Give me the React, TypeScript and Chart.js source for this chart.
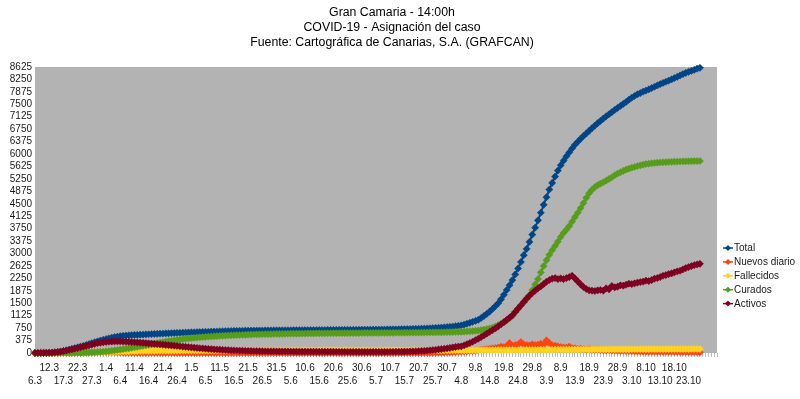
import React, { useEffect, useRef } from 'react';
import { Chart, registerables } from 'chart.js';

Chart.register(...registerables);

const titleLines = [
  'Gran Camaria - 14:00h',
  'COVID-19 - Asignación del caso',
  'Fuente: Cartográfica de Canarias, S.A. (GRAFCAN)',
];

const tickLabels = [
  '6.3', '12.3', '17.3', '22.3', '27.3', '1.4', '6.4', '11.4', '16.4', '21.4', '26.4',
  '1.5', '6.5', '11.5', '16.5', '21.5', '26.5', '31.5', '5.6', '10.6', '15.6', '20.6',
  '25.6', '30.6', '5.7', '10.7', '15.7', '20.7', '25.7', '30.7', '4.8', '9.8', '14.8',
  '19.8', '24.8', '29.8', '3.9', '8.9', '13.9', '18.9', '23.9', '28.9', '3.10', '8.10',
  '13.10', '18.10', '23.10',
];

const categoryCount = 241;

const yTicksMax = 8625;
const yTickStep = 375;

const seriesNames = ['Total', 'Nuevos diario', 'Fallecidos', 'Curados', 'Activos'];
const seriesColors = ['#004586', '#ff420e', '#ffd320', '#579d1c', '#7e0021'];

const total = [
  1, 2, 3, 4, 6, 9, 13, 20, 30, 45,
  62, 80, 101, 122, 145, 168, 190, 212, 240, 268,
  296, 324, 350, 375, 398, 420, 442, 462, 480, 496,
  508, 518, 526, 533, 539, 544, 549, 553, 557, 561,
  566, 570, 574, 579, 583, 587, 590, 594, 598, 602,
  606, 609, 612, 616, 619, 622, 625, 629, 632, 635,
  638, 641, 644, 646, 649, 652, 655, 658, 661, 664,
  666, 668, 669, 671, 672, 673, 674, 676, 677, 678,
  679, 680, 681, 681, 682, 683, 684, 684, 685, 686,
  686, 687, 688, 688, 689, 690, 690, 691, 692, 692,
  693, 693, 694, 695, 695, 696, 696, 697, 697, 698,
  699, 699, 700, 700, 701, 702, 702, 703, 704, 705,
  706, 707, 708, 709, 710, 711, 713, 714, 716, 718,
  720, 722, 724, 727, 729, 732, 735, 738, 742, 746,
  751, 756, 762, 768, 775, 782, 790, 799, 809, 820,
  835, 858, 884, 910, 940, 968, 1000, 1055, 1118, 1180,
  1250, 1330, 1412, 1500, 1620, 1755, 1900, 2045, 2200, 2370,
  2550, 2745, 2950, 3140, 3350, 3570, 3780, 4000, 4230, 4470,
  4700, 4930, 5130, 5320, 5500, 5660, 5800, 5930, 6050, 6170,
  6280, 6370, 6460, 6545, 6620, 6700, 6780, 6855, 6930, 7000,
  7070, 7140, 7200, 7265, 7330, 7390, 7450, 7510, 7570, 7640,
  7700, 7750, 7800, 7840, 7880, 7915, 7950, 7990, 8030, 8070,
  8110, 8145, 8180, 8215, 8250, 8290, 8330, 8370, 8410, 8445,
  8480, 8510, 8540, 8575, 8600,
];

const nuevosDiario = [
  1, 1, 1, 1, 2, 3, 4, 7, 10, 15,
  17, 18, 21, 21, 23, 23, 22, 22, 28, 28,
  28, 28, 26, 25, 23, 22, 22, 20, 18, 16,
  12, 10, 8, 7, 6, 5, 5, 4, 4, 4,
  5, 4, 4, 5, 4, 4, 3, 4, 4, 4,
  4, 3, 3, 4, 3, 3, 3, 4, 3, 3,
  3, 3, 3, 2, 3, 3, 3, 3, 3, 3,
  2, 2, 1, 2, 1, 1, 1, 2, 1, 1,
  1, 1, 0, 1, 1, 1, 1, 0, 1, 1,
  0, 1, 1, 0, 1, 1, 0, 1, 1, 0,
  1, 0, 1, 1, 0, 1, 0, 1, 0, 1,
  1, 0, 1, 0, 1, 1, 0, 1, 1, 1,
  1, 1, 1, 1, 1, 1, 2, 1, 2, 2,
  2, 2, 2, 3, 2, 3, 3, 3, 4, 4,
  6, 8, 10, 12, 14, 16, 20, 24, 28, 34,
  40, 45, 52, 60, 58, 70, 85, 100, 110, 120,
  130, 140, 150, 165, 190, 175, 210, 300, 220, 240,
  260, 330, 250, 240, 230, 260, 240, 250, 280, 260,
  380, 300, 230, 220, 200, 180, 170, 160, 190, 150,
  140, 120, 130, 110, 100, 120, 95, 90, 100, 85,
  80, 75, 85, 70, 72, 65, 60, 68, 62, 60,
  55, 50, 48, 45, 42, 44, 40, 38, 42, 40,
  38, 36, 40, 35, 38, 36, 34, 32, 30, 33,
  30, 28, 27, 25, 20,
];

const fallecidos = [
  0, 0, 0, 0, 0, 0, 0, 0, 0, 0,
  0, 0, 1, 1, 2, 3, 4, 6, 8, 10,
  13, 16, 19, 22, 25, 28, 32, 35, 38, 41,
  44, 47, 50, 52, 54, 56, 58, 60, 62, 63,
  64, 66, 67, 68, 69, 70, 71, 72, 72, 73,
  74, 74, 75, 75, 76, 76, 76, 77, 77, 77,
  78, 78, 78, 78, 78, 79, 79, 79, 79, 79,
  79, 79, 79, 79, 79, 80, 80, 80, 80, 80,
  80, 80, 80, 80, 80, 80, 80, 80, 80, 80,
  80, 80, 80, 80, 80, 80, 80, 80, 80, 80,
  80, 80, 80, 80, 80, 80, 80, 80, 80, 80,
  80, 80, 80, 80, 80, 81, 81, 81, 81, 81,
  81, 81, 81, 81, 81, 81, 81, 81, 81, 81,
  81, 81, 81, 81, 82, 82, 82, 82, 82, 82,
  82, 82, 82, 82, 82, 83, 83, 83, 83, 83,
  83, 83, 84, 84, 84, 84, 85, 85, 85, 86,
  86, 86, 87, 87, 88, 88, 89, 89, 90, 90,
  91, 91, 92, 92, 93, 94, 94, 95, 96, 96,
  97, 98, 98, 99, 100, 100, 101, 102, 102, 103,
  104, 104, 105, 105, 106, 106, 107, 107, 108, 108,
  109, 109, 110, 110, 110, 111, 111, 112, 112, 112,
  113, 113, 113, 114, 114, 114, 115, 115, 115, 116,
  116, 116, 117, 117, 117, 118, 118, 118, 119, 119,
  119, 120, 120, 120, 121,
];

const curados = [
  0, 0, 0, 0, 0, 0, 0, 0, 0, 0,
  0, 0, 0, 0, 1, 2, 3, 5, 7, 10,
  14, 19, 25, 32, 40, 49, 58, 68, 79, 90,
  102, 115, 128, 142, 156, 171, 186, 201, 216, 232,
  248, 264, 280, 296, 312, 328, 343, 357, 370, 383,
  395, 406, 417, 427, 437, 446, 455, 463, 471, 478,
  485, 492, 498, 504, 509, 514, 519, 524, 528, 532,
  536, 540, 543, 546, 549, 552, 555, 558, 560, 563,
  565, 567, 569, 571, 573, 575, 576, 578, 579, 581,
  582, 583, 584, 586, 587, 588, 589, 590, 591, 592,
  593, 594, 594, 595, 596, 597, 597, 598, 599, 599,
  600, 601, 601, 602, 602, 603, 604, 604, 605, 605,
  606, 606, 607, 607, 608, 609, 609, 610, 611, 611,
  612, 613, 614, 614, 615, 616, 617, 618, 619, 620,
  621, 622, 623, 625, 626, 628, 630, 632, 635, 637,
  640, 645, 650, 655, 660, 668, 676, 690, 705, 720,
  740, 765, 800, 840, 880, 925, 980, 1050, 1130, 1230,
  1330, 1430, 1530, 1630, 1740, 1900, 2070, 2230, 2430, 2620,
  2800, 2960, 3100, 3230, 3360, 3500, 3620, 3720, 3830, 3960,
  4100, 4230, 4370, 4520, 4680, 4820, 4920, 5000, 5060, 5110,
  5150, 5200, 5250, 5300, 5360, 5410, 5450, 5490, 5530, 5560,
  5590, 5610, 5640, 5660, 5680, 5700, 5710, 5720, 5730, 5740,
  5745, 5750, 5755, 5760, 5765, 5770, 5772, 5775, 5778, 5780,
  5782, 5785, 5787, 5789, 5790,
];

const activos = [
  1, 2, 3, 4, 6, 9, 13, 19, 28, 40,
  55, 72, 90, 110, 130, 150, 170, 188, 210, 232,
  255, 275, 295, 310, 322, 332, 340, 345, 348, 350,
  348, 345, 341, 336, 330, 324, 318, 312, 306, 299,
  292, 284, 276, 268, 260, 252, 244, 236, 228, 220,
  212, 203, 194, 185, 176, 168, 160, 152, 144, 137,
  130, 123, 117, 111, 105, 100, 95, 90, 86, 82,
  78, 75, 72, 69, 66, 64, 62, 60, 58, 56,
  54, 53, 52, 51, 50, 49, 48, 47, 46, 46,
  45, 45, 44, 44, 43, 43, 42, 42, 41, 41,
  40, 40, 40, 39, 39, 39, 38, 38, 38, 37,
  37, 37, 36, 36, 36, 36, 35, 35, 35, 35,
  35, 35, 36, 36, 37, 37, 38, 39, 40, 41,
  43, 45, 47, 50, 53, 57, 62, 67, 73, 80,
  88, 97, 107, 117, 128, 140, 153, 167, 182, 196,
  200, 230, 265, 300, 340, 385, 430, 480, 530, 585,
  640, 690, 740, 800, 865, 930, 1000, 1065, 1135, 1240,
  1340, 1440, 1540, 1640, 1730, 1810, 1880, 1950, 2010, 2080,
  2150, 2200, 2240, 2260, 2230, 2250, 2230, 2260, 2290, 2330,
  2250, 2160, 2070, 1990, 1930, 1890, 1880, 1870, 1890, 1900,
  1880, 1950, 1920, 2020, 1980, 2000, 2040, 2030, 2060, 2090,
  2080, 2100, 2120, 2140, 2150, 2180, 2170, 2200, 2240, 2260,
  2290, 2330, 2350, 2380, 2400, 2430, 2460, 2480, 2520, 2560,
  2590, 2620, 2650, 2670, 2690,
];

const seriesData = [total, nuevosDiario, fallecidos, curados, activos];

const FONT = '"Liberation Sans", Arial, Helvetica, sans-serif';

const categories = Array.from({ length: categoryCount }, (_, i) =>
  i % 5 === 0 && tickLabels[i / 5] !== undefined ? tickLabels[i / 5] : ''
);

function drawDiamond(ctx: CanvasRenderingContext2D, x: number, y: number, r: number) {
  ctx.beginPath();
  ctx.moveTo(x, y - r);
  ctx.lineTo(x + r, y);
  ctx.lineTo(x, y + r);
  ctx.lineTo(x - r, y);
  ctx.closePath();
  ctx.fill();
}

const plotBgPlugin = {
  id: 'plotBg',
  beforeDraw(chart: any) {
    const { ctx, chartArea: a } = chart;
    ctx.save();
    ctx.fillStyle = '#b3b3b3';
    ctx.fillRect(a.left, a.top, a.right - a.left, a.bottom - a.top);
    ctx.restore();
  },
};

const titlePlugin = {
  id: 'centerTitle',
  afterDraw(chart: any) {
    const { ctx } = chart;
    ctx.save();
    ctx.font = `12.3px ${FONT}`;
    ctx.fillStyle = '#000';
    ctx.textAlign = 'center';
    ctx.textBaseline = 'middle';
    titleLines.forEach((line, i) => {
      ctx.fillText(line, 392, 12.5 + i * 15);
    });
    ctx.restore();
  },
};

const sideLegendPlugin = {
  id: 'sideLegend',
  afterDraw(chart: any) {
    const { ctx, chartArea: a } = chart;
    const x0 = a.right + 6;
    const yStart = 248;
    const step = 13.9;
    ctx.save();
    ctx.font = `10px ${FONT}`;
    ctx.textBaseline = 'middle';
    ctx.textAlign = 'left';
    seriesNames.forEach((name, i) => {
      const y = yStart + i * step;
      const c = seriesColors[i];
      ctx.strokeStyle = c;
      ctx.fillStyle = c;
      ctx.lineWidth = 1.5;
      ctx.beginPath();
      ctx.moveTo(x0, y);
      ctx.lineTo(x0 + 10, y);
      ctx.stroke();
      drawDiamond(ctx, x0 + 5, y, 3);
      ctx.fillStyle = '#1a1a1a';
      ctx.fillText(name, x0 + 11, y + 0.5);
    });
    ctx.restore();
  },
};

export default function App() {
  const canvasRef = useRef<HTMLCanvasElement | null>(null);

  useEffect(() => {
    const canvas = canvasRef.current;
    if (!canvas) return;
    const datasets = seriesNames.map((name, i) => ({
      label: name,
      data: seriesData[i],
      borderColor: seriesColors[i],
      backgroundColor: seriesColors[i],
      borderWidth: 2,
      pointStyle: 'rectRot' as const,
      pointRadius: 3.6,
      pointBorderWidth: 0.5,
      pointBorderColor: seriesColors[i],
      pointBackgroundColor: seriesColors[i],
      tension: 0,
      fill: false,
      clip: false as any,
      order: seriesNames.length - i,
    }));

    const chart = new Chart(canvas, {
      type: 'line',
      data: { labels: categories, datasets },
      plugins: [plotBgPlugin, titlePlugin, sideLegendPlugin],
      options: {
        responsive: false,
        animation: false,
        layout: { padding: { left: 0, right: 83, top: 67, bottom: 6 } },
        plugins: {
          legend: { display: false },
          tooltip: { enabled: false },
          title: { display: false },
        },
        scales: {
          x: {
            type: 'category',
            offset: false,
            border: { display: false },
            grid: {
              display: true,
              drawOnChartArea: false,
              drawTicks: true,
              tickLength: 4,
              color: '#bdbdbd',
            },
            ticks: {
              autoSkip: false,
              maxRotation: 0,
              minRotation: 0,
              padding: 5,
              color: '#1a1a1a',
              font: { family: FONT, size: 10, lineHeight: 1.3 },
              callback: (_v: any, index: number) => {
                if (index % 5 !== 0) return '';
                const k = index / 5;
                const lbl = tickLabels[k];
                if (!lbl) return '';
                return k % 2 === 0 ? ['', lbl] : [lbl, ''];
              },
            },
          },
          y: {
            min: 0,
            max: yTicksMax,
            border: { display: false },
            grid: { display: false, drawTicks: false },
            afterFit: (scale: any) => {
              scale.width = 35;
            },
            ticks: {
              stepSize: yTickStep,
              autoSkip: false,
              padding: 3,
              color: '#1a1a1a',
              font: { family: FONT, size: 10 },
              callback: (v: any) => String(v),
            },
          },
        },
      },
    });
    return () => chart.destroy();
  }, []);

  return (
    <div style={{ position: 'absolute', left: 0, top: 0, width: 800, height: 399, background: '#fff' }}>
      <canvas ref={canvasRef} width={800} height={399} />
    </div>
  );
}
